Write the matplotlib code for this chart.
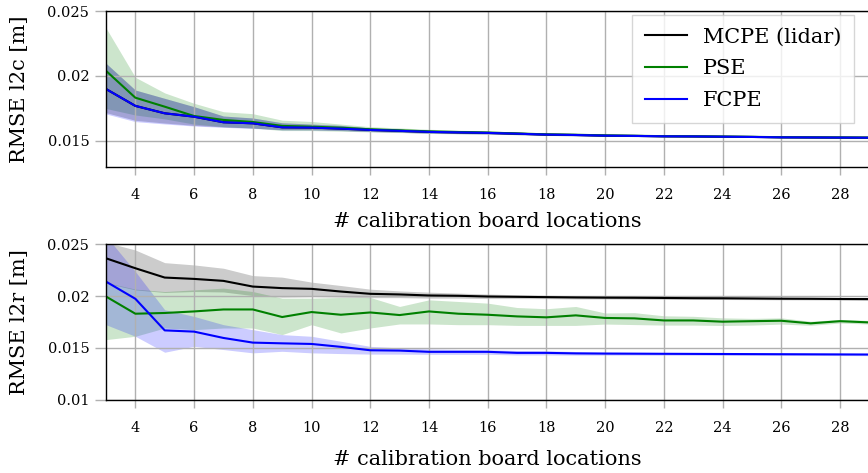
import numpy as np
import matplotlib
matplotlib.use('Agg')
import matplotlib.pyplot as plt

plt.rcParams['font.family'] = ['DejaVu Serif']

locations = np.arange(3, 30)

# l2c, top panel
mcpe_l2c = [0.0190, 0.0177, 0.01713, 0.01687, 0.01644, 0.01636, 0.01605, 0.01603, 0.01595,
            0.01585, 0.01578, 0.0157, 0.01566, 0.01562, 0.01556, 0.01549, 0.01546, 0.01541,
            0.01539, 0.01536, 0.01535, 0.01533, 0.01531, 0.01528, 0.01527, 0.01526, 0.01525]
mcpe_l2c_lo = [0.01718, 0.01659, 0.01638, 0.01620, 0.01608, 0.01599, 0.01587, 0.01586, 0.01581,
               0.01573, 0.01567, 0.0156, 0.01557, 0.01554, 0.01549, 0.01543, 0.0154, 0.01536,
               0.01534, 0.01532, 0.01531, 0.01529, 0.01527, 0.01525, 0.01524, 0.01523, 0.01522]
mcpe_l2c_hi = [0.02098, 0.01892, 0.01828, 0.01764, 0.01692, 0.01677, 0.0164, 0.0163, 0.0162,
               0.016, 0.0159, 0.0158, 0.01575, 0.0157, 0.01563, 0.01555, 0.01552, 0.01546,
               0.01544, 0.0154, 0.01539, 0.01537, 0.01535, 0.01531, 0.0153, 0.01529, 0.01528]

pse_l2c = [0.0204, 0.01833, 0.01764, 0.01692, 0.01662, 0.01646, 0.01616, 0.0161, 0.01602,
           0.0159, 0.01582, 0.01574, 0.01569, 0.01565, 0.01558, 0.01551, 0.01548, 0.01543,
           0.0154, 0.01537, 0.01536, 0.01534, 0.01532, 0.01529, 0.01528, 0.01527, 0.01526]
pse_l2c_lo = [0.0175, 0.0170, 0.0167, 0.0163, 0.0161, 0.0160, 0.0158, 0.0158, 0.01575,
              0.0157, 0.01565, 0.01558, 0.01555, 0.01553, 0.01548, 0.01542, 0.0154, 0.01536,
              0.01534, 0.01532, 0.01532, 0.0153, 0.01528, 0.01526, 0.01526, 0.01525, 0.01524]
pse_l2c_hi = [0.0237, 0.0199, 0.0187, 0.0179, 0.01725, 0.0171, 0.0166, 0.0165, 0.0163,
              0.0161, 0.016, 0.0159, 0.01583, 0.01577, 0.01568, 0.0156, 0.01556, 0.0155,
              0.01546, 0.01542, 0.0154, 0.01538, 0.01536, 0.01532, 0.0153, 0.01529, 0.01528]

fcpe_l2c = [0.0190, 0.0177, 0.01713, 0.01687, 0.01644, 0.01636, 0.01605, 0.01603, 0.01595,
            0.01585, 0.01578, 0.0157, 0.01566, 0.01562, 0.01556, 0.01549, 0.01546, 0.01541,
            0.01539, 0.01536, 0.01535, 0.01533, 0.01531, 0.01528, 0.01527, 0.01526, 0.01525]
fcpe_l2c_lo = [0.01708, 0.01649, 0.01631, 0.01615, 0.01605, 0.01597, 0.01585, 0.01585, 0.0158,
               0.01572, 0.01567, 0.0156, 0.01557, 0.01554, 0.01549, 0.01543, 0.0154, 0.01536,
               0.01534, 0.01532, 0.01531, 0.01529, 0.01527, 0.01525, 0.01524, 0.01523, 0.01522]
fcpe_l2c_hi = [0.02098, 0.01892, 0.01828, 0.01764, 0.01692, 0.01677, 0.0164, 0.0163, 0.0162,
               0.016, 0.0159, 0.0158, 0.01575, 0.0157, 0.01563, 0.01555, 0.01552, 0.01546,
               0.01544, 0.0154, 0.01539, 0.01537, 0.01535, 0.01531, 0.0153, 0.01529, 0.01528]

# l2r, bottom panel
mcpe_l2r = [0.02365, 0.02269, 0.02179, 0.02166, 0.02147, 0.02092, 0.02077, 0.0207, 0.02044,
            0.02022, 0.02016, 0.02006, 0.02003, 0.01996, 0.01993, 0.0199, 0.01987, 0.01985,
            0.01984, 0.01982, 0.0198, 0.01979, 0.01977, 0.01975, 0.01974, 0.01972, 0.01971]
mcpe_l2r_lo = [0.02125, 0.0206, 0.02035, 0.02044, 0.0204, 0.02005, 0.0199, 0.01995, 0.0199,
               0.01985, 0.01985, 0.0198, 0.0198, 0.01976, 0.01976, 0.01975, 0.01972, 0.01972,
               0.0197, 0.01969, 0.01968, 0.01967, 0.01966, 0.01964, 0.01963, 0.01962, 0.0196]
mcpe_l2r_hi = [0.0252, 0.02445, 0.02323, 0.02301, 0.02269, 0.02198, 0.02183, 0.02135, 0.02102,
               0.02067, 0.0205, 0.02038, 0.02029, 0.0202, 0.02013, 0.02008, 0.02004, 0.02,
               0.01998, 0.01995, 0.01993, 0.01991, 0.01989, 0.01987, 0.01985, 0.01983, 0.01982]

pse_l2r = [0.01996, 0.0183, 0.01837, 0.01852, 0.01871, 0.01871, 0.01798, 0.01846, 0.0182,
           0.01842, 0.01817, 0.01852, 0.0183, 0.0182, 0.01804, 0.01795, 0.01814, 0.01789,
           0.01785, 0.01765, 0.01765, 0.01753, 0.01758, 0.01762, 0.01737, 0.01758, 0.01746]
pse_l2r_lo = [0.0158, 0.01612, 0.01692, 0.01676, 0.01692, 0.01692, 0.01628, 0.01724, 0.01644,
              0.01692, 0.01731, 0.01731, 0.01724, 0.01724, 0.01717, 0.01717, 0.01717, 0.0173,
              0.01725, 0.0172, 0.0172, 0.01716, 0.0172, 0.0173, 0.01718, 0.0174, 0.0173]
pse_l2r_hi = [0.02131, 0.02067, 0.02044, 0.0206, 0.02077, 0.02044, 0.0198, 0.0198, 0.01987,
              0.01987, 0.019, 0.01964, 0.01948, 0.01932, 0.0189, 0.01878, 0.019, 0.01837,
              0.0184, 0.0181, 0.01805, 0.0179, 0.01785, 0.0179, 0.01757, 0.01775, 0.01765]

fcpe_l2r = [0.0214, 0.01974, 0.01669, 0.01657, 0.01596, 0.01551, 0.01544, 0.01538, 0.0151,
            0.01477, 0.01474, 0.01462, 0.01462, 0.01462, 0.01452, 0.01452, 0.01447, 0.01445,
            0.01444, 0.01443, 0.01442, 0.01441, 0.0144, 0.01439, 0.01438, 0.01437, 0.01436]
fcpe_l2r_lo = [0.01724, 0.01612, 0.01458, 0.01515, 0.01484, 0.01452, 0.01467, 0.01452, 0.01445,
               0.0144, 0.0144, 0.01438, 0.01438, 0.01438, 0.01432, 0.01432, 0.0143, 0.0143,
               0.0143, 0.01429, 0.01429, 0.01428, 0.01428, 0.01427, 0.01427, 0.01426, 0.01425]
fcpe_l2r_hi = [0.0258, 0.02237, 0.01868, 0.01804, 0.01724, 0.01676, 0.01628, 0.01612, 0.01564,
               0.01515, 0.015, 0.0149, 0.01485, 0.01482, 0.01475, 0.01472, 0.01465, 0.0146,
               0.01458, 0.01455, 0.01453, 0.01451, 0.0145, 0.01449, 0.01448, 0.01447, 0.01446]

names = ['MCPE (lidar)', 'PSE', 'FCPE']
colors = ['k', 'g', 'b']

fig = plt.figure(figsize=(8.68, 4.73), dpi=100)
ax1 = fig.add_axes([0.1221, 0.647, 0.8795, 0.3297])
ax2 = fig.add_axes([0.1221, 0.155, 0.8795, 0.3285])

panels = [
    (ax1, [(mcpe_l2c, mcpe_l2c_lo, mcpe_l2c_hi), (pse_l2c, pse_l2c_lo, pse_l2c_hi),
           (fcpe_l2c, fcpe_l2c_lo, fcpe_l2c_hi)], 'RMSE l2c [m]', (0.013, 0.025),
     [0.015, 0.02, 0.025], -0.288),
    (ax2, [(mcpe_l2r, mcpe_l2r_lo, mcpe_l2r_hi), (pse_l2r, pse_l2r_lo, pse_l2r_hi),
           (fcpe_l2r, fcpe_l2r_lo, fcpe_l2r_hi)], 'RMSE l2r [m]', (0.01, 0.025),
     [0.01, 0.015, 0.02, 0.025], -0.325),
]

for ax, series, ylab, ylim, yticks, xlab_y in panels:
    # bands first, lines on top
    for (m, lo, hi), c in zip(series, colors):
        ax.fill_between(locations, lo, hi, color=c, alpha=0.2, linewidth=0)
    for (m, lo, hi), c, n in zip(series, colors, names):
        ax.plot(locations, m, color=c, linewidth=1.5, label=n)
    ax.set_xlim(3, 29)
    ax.set_ylim(*ylim)
    ax.set_xticks(np.arange(4, 29, 2))
    ax.set_yticks(yticks)
    ax.set_yticklabels(['%g' % t for t in yticks])
    ax.grid(True, color='#b0b0b0', linewidth=1.0)
    ax.tick_params(axis='y', length=8, width=1, color='#b0b0b0', labelsize=10.5, pad=4)
    ax.tick_params(axis='x', length=6, width=1, color='#b0b0b0', labelsize=10.5, pad=9)
    ax.set_ylabel(ylab, fontsize=15)
    ax.yaxis.set_label_coords(-0.101, 0.5)
    ax.set_xlabel('# calibration board locations', fontsize=15)
    ax.xaxis.set_label_coords(0.5, xlab_y)
    for s in ax.spines.values():
        s.set_color('k')
        s.set_linewidth(1.0)

ax1.legend(loc='upper right', bbox_to_anchor=(0.98, 0.974), borderaxespad=0,
           fontsize=15, handlelength=2.0, labelspacing=0.62, borderpad=0.6,
           fancybox=False)

fig.savefig('out.png', dpi=100)
